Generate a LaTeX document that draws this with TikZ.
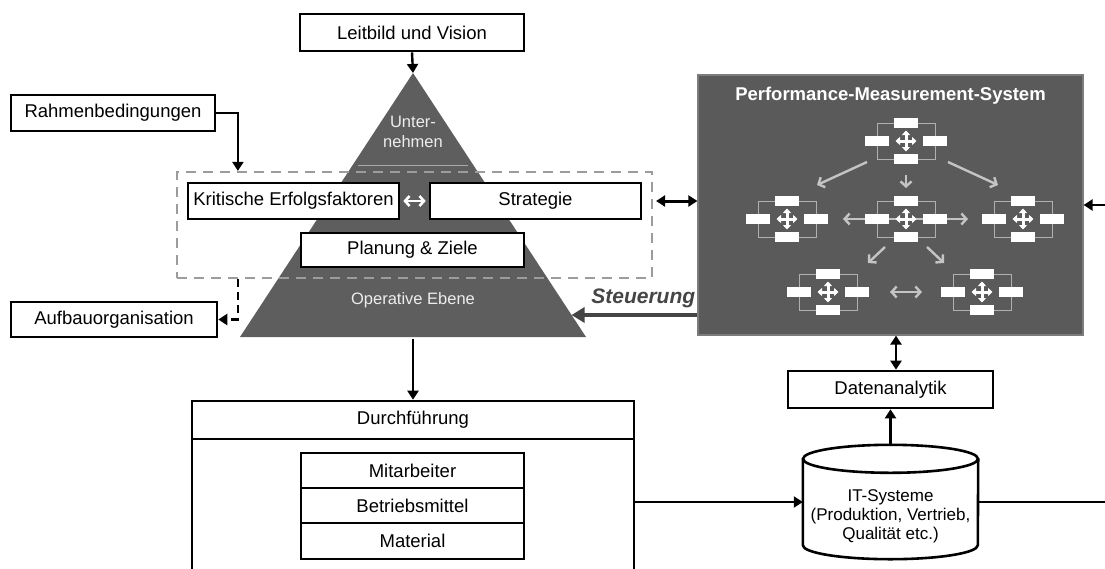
\documentclass[tikz,border=0pt]{standalone}
\usepackage{fontspec}
\setmainfont{Liberation Sans}
\usetikzlibrary{arrows.meta,calc}

\definecolor{pyr}{HTML}{5E5E5E}
\definecolor{pmsfill}{HTML}{5A5A5A}
\definecolor{pmsedge}{HTML}{7C7C7C}
\definecolor{steer}{HTML}{454545}
\definecolor{dashgray}{HTML}{9C9C9C}
\definecolor{flow}{HTML}{C4C4C4}
\definecolor{hair}{HTML}{B0B0B0}
\definecolor{pyrline}{HTML}{A8A8A8}
\definecolor{pyrtxt}{HTML}{EDEDED}

\tikzset{
  txt/.style={font=\fontsize{18.5}{21}\selectfont},
  box/.style={txt, draw=black, line width=2.6pt, fill=white, inner sep=0pt, align=center},
  conn/.style={line width=2.4pt, -{Triangle[length=9pt,width=11pt]}},
  dconn/.style={line width=2.4pt, {Triangle[length=9pt,width=11pt]}-{Triangle[length=9pt,width=11pt]}},
  dashconn/.style={conn, dash pattern=on 8pt off 5pt},
  frame/.style={draw=dashgray, line width=2.2pt, dash pattern=on 10pt off 7pt, inner sep=0pt},
  pyrtext/.style={font=\fontsize{16.5}{20}\selectfont, text=pyrtxt, align=center, inner sep=0pt},
  steerarrow/.style={draw=steer, line width=4.5pt, -{Triangle[length=13pt,width=15pt]}},
  flowarrow/.style={draw=flow, line width=2.4pt, -{Straight Barb[length=5pt,width=11pt]}},
  dflowarrow/.style={draw=flow, line width=2.4pt, {Straight Barb[length=5pt,width=11pt]}-{Straight Barb[length=5pt,width=11pt]}},
  cyl/.style={draw=black, line width=2.6pt, fill=white},
  kpi/.pic={
    \draw[hair, line width=0.9pt] (-29,-18) rectangle (29,18);
    \fill[white] (-12,-23) rectangle (12,-13);
    \fill[white] (-12,13) rectangle (12,23);
    \fill[white] (-41,-5) rectangle (-17,5);
    \fill[white] (17,-5) rectangle (41,5);
    \draw[white, line width=3pt, {Triangle[length=4.5pt,width=8pt]}-{Triangle[length=4.5pt,width=8pt]}] (-10.5,0) -- (10.5,0);
    \draw[white, line width=3pt, {Triangle[length=4.5pt,width=8pt]}-{Triangle[length=4.5pt,width=8pt]}] (0,-10.5) -- (0,10.5);
  }
}

\begin{document}
\begin{tikzpicture}[x=1pt,y=-1pt]
\useasboundingbox (0,0) rectangle (1105,568);
\clip (0,0) rectangle (1105,568);

% pyramid: company -> strategy -> operations
\coordinate (apex) at (413,73);
\coordinate (pbl) at (240,337);
\coordinate (pbr) at (586,337);
\coordinate (pbase) at (413,337);
\coordinate (pyrR) at (571.5,315);
\fill[pyr] (apex) -- (pbr) -- (pbl) -- cycle;
\draw[pyrline, line width=1pt] (358,165) -- (468,165);
\node[pyrtext] (unt) at (413,132) {Unter-\\nehmen};
\node[pyrtext] (oper) at (413,300) {Operative Ebene};

% dashed strategic frame
\node[frame, minimum width=475, minimum height=106] (focus) at (414.5,225) {};

% boxes
\node[box, minimum width=224, minimum height=37] (leit) at (412,32.5) {Leitbild und Vision};
\node[box, minimum width=204, minimum height=36] (rahmen) at (113,113) {Rahmenbedingungen};
\node[box, minimum width=211, minimum height=36] (krit) at (293.5,201) {Kritische Erfolgsfaktoren};
\node[box, minimum width=211, minimum height=36] (strat) at (535.5,201) {Strategie};
\node[box, minimum width=223, minimum height=34] (plan) at (412.5,250) {Planung \& Ziele};
\node[box, minimum width=206, minimum height=35] (aufbau) at (114,319.5) {Aufbauorganisation};

% performance measurement system
\node[fill=pmsfill, draw=pmsedge, line width=1.2pt, minimum width=385, minimum height=260, inner sep=0pt] (pms) at (890.5,205) {};
\node[txt, font=\fontsize{18.5}{21}\selectfont\bfseries, text=white, inner sep=0pt] (pmstitle) at (890.5,96) {Performance-Measurement-System};

\coordinate (k1) at (906,141);
\coordinate (k2) at (787,219);
\coordinate (k3) at (906,219);
\coordinate (k4) at (1023,219);
\coordinate (k5) at (828,292);
\coordinate (k6) at (982,292);

\draw[dflowarrow] ($(k3)+(-63,0)$) -- ($(k3)+(62,0)$);
\foreach \k in {k1,k2,k3,k4,k5,k6} \pic at (\k) {kpi};
\draw[flowarrow] ($(k1)+(-39,21)$) -- ($(k2)+(30,-34)$);
\draw[flowarrow] ($(k1)+(0,34)$) -- ($(k3)+(0,-31)$);
\draw[flowarrow] ($(k1)+(42,21)$) -- ($(k4)+(-25,-34)$);
\draw[flowarrow] ($(k3)+(-21,28)$) -- ($(k5)+(40,-29)$);
\draw[flowarrow] ($(k3)+(21,28)$) -- ($(k6)+(-38,-29)$);
\draw[dflowarrow] ($(k5)+(62,0)$) -- ($(k6)+(-60,0)$);

% execution block: header and open body
\node[box, outer sep=0pt, minimum width=442, minimum height=38] (durch) at (413,420) {Durchführung};
\node[inner sep=0pt, outer sep=0pt, minimum width=442, minimum height=160, anchor=north] (durchbody) at (durch.south) {};
\draw[line width=2.6pt] (durch.south west) -- (durchbody.south west);
\draw[line width=2.6pt] (durch.south east) -- (durchbody.south east);
\node[box, minimum width=223, minimum height=35] (mit) at (412.5,470.5) {Mitarbeiter};
\node[box, minimum width=223, minimum height=35] (betr) at (412.5,505.5) {Betriebsmittel};
\node[box, minimum width=223, minimum height=36] (mat) at (412.5,541) {Material};

% data analytics and IT systems
\node[box, minimum width=205, minimum height=37] (daten) at (890.5,389.5) {Datenanalytik};
\node[inner sep=0pt, minimum width=175, minimum height=114] (it) at (890.5,502) {};
\draw[cyl] ($(it.north west)+(0,14)$) -- ($(it.south west)+(0,-14)$)
  arc[start angle=180, end angle=360, x radius=87.5pt, y radius=14pt]
  -- ($(it.north east)+(0,14)$);
\draw[cyl] ($(it.north)+(0,14)$) ellipse[x radius=87.5pt, y radius=14pt];
\node[font=\fontsize{17}{19}\selectfont, align=center, inner sep=0pt] (itlabel) at (890.5,516) {IT-Systeme\\(Produktion, Vertrieb,\\Qualität etc.)};

\coordinate (inR) at (1105,205);
\coordinate (outR) at (1105,502);

% connectors
\draw[conn] (leit.south) -- (apex);
\draw[conn] (rahmen.east) -| ($(focus.north west)+(62,0)$);
\draw[dashconn] ($(focus.south west)+(62,0)$) |- (aufbau.east);
\draw[white, line width=2.6pt, {Straight Barb[length=4.5pt,width=10pt]}-{Straight Barb[length=4.5pt,width=10pt]}, shorten <=3pt, shorten >=3pt] (krit.east) -- (strat.west);
\draw[dconn, line width=3pt] ($(focus.east |- strat.east)+(3,0)$) -- (strat.east -| pms.west);
\draw[steerarrow] (pms.west |- pyrR) -- node[pos=0.43, above=5pt, inner sep=0pt, font=\fontsize{21}{24}\selectfont\bfseries\itshape, text=steer] (steu) {Steuerung} (pyrR);
\draw[conn] (inR) -- (pms.east);
\draw[conn] ($(pbase)+(0,1.5)$) -- ($(durch.north)+(0,-1.3)$);
\draw[dconn] ($(pms.south)+(5.5,0)$) -- ($(daten.north)+(5.5,0)$);
\draw[conn] (it.north) -- (daten.south);
\draw[conn] ($(durchbody.east |- it.west)+(1.3,0)$) -- (it.west);
\draw[line width=2.4pt] (it.east) -- (outR);
\end{tikzpicture}
\end{document}
